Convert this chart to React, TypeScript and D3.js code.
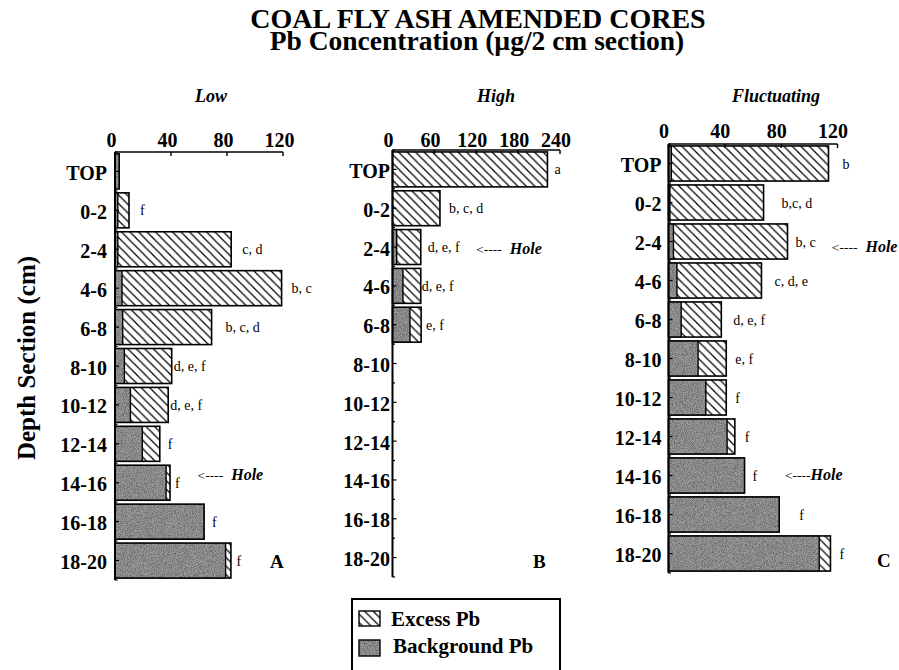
import React from 'react';
import * as d3 from 'd3';

// ---------- data ----------
const depthRows = ['TOP', '0-2', '2-4', '4-6', '6-8', '8-10', '10-12', '12-14', '14-16', '16-18', '18-20'];

const lowBackground = [3, 2, 2, 5, 5.5, 6.7, 11, 19.5, 36.5, 63.6, 79];
const lowExcess = [0, 8, 81, 114, 63.5, 33.8, 27, 12.5, 2.8, 0, 3.8];
const lowLetters = ['', 'f', 'c, d', 'b, c', 'b, c, d', 'd, e, f', 'd, e, f', 'f', 'f', 'f', 'f'];
const lowTicks = [0, 40, 80, 120];

const highBackground = [0, 0, 6, 15, 25, 0, 0, 0, 0, 0, 0];
const highExcess = [222, 68, 34.5, 25.5, 16, 0, 0, 0, 0, 0, 0];
const highLetters = ['a', 'b, c, d', 'd, e, f', 'd, e, f', 'e, f', '', '', '', '', '', ''];
const highTicks = [0, 60, 120, 180, 240];

const fluctBackground = [2, 1, 3.5, 6, 9, 21, 26.5, 41.6, 54, 78.6, 107];
const fluctExcess = [111.6, 66.5, 81, 60, 28.5, 20, 14.5, 5.5, 0, 0, 8];
const fluctLetters = ['b', 'b,c, d', 'b, c', 'c, d, e', 'd, e, f', 'e, f', 'f', 'f', 'f', 'f', 'f'];
const fluctTicks = [0, 40, 80, 120];

const panelNames = ['Low', 'High', 'Fluctuating'];
const panelTags = ['A', 'B', 'C'];

// hole annotations: panel index, row, position in data units
const holePanels = [0, 1, 2, 2];
const holeRows = ['14-16', '2-4', '2-4', '14-16'];
const holeAt = [59, 120, 116, 82.7];

// ---------- layout ----------
const W = 899;
const H = 670;
const FONT = "'Liberation Serif', 'Times New Roman', Tinos, 'DejaVu Serif', serif";

const layout = [
  { x0: 115, x1: 283, yTop: 152, yBot: 580, rowGap: 8, tickDx: -3.5, tickDy: 5.5, nameX: 211, tagX: 270, tagY: 568,
    gaps: [8, 11, 11, 10, 14, 2, 2, 8, 5, 8, 5.5] },
  { x0: 392.5, x1: 560, yTop: 150, yBot: 577, rowGap: 2.5, tickDx: -4, tickDy: 3.5, nameX: 496, tagX: 533, tagY: 568,
    gaps: [7, 9, 7, 1, 5, 5, 5, 5, 5, 5, 5] },
  { x0: 668.5, x1: 837.5, yTop: 144, yBot: 573, rowGap: 7, tickDx: -4.5, tickDy: 5.7, nameX: 776, tagX: 877, tagY: 567,
    gaps: [14, 18, 8, 13, 12, 9, 9, 10, 8, 20, 9] },
];
const holeDy = [-3, 7, 10.5, 4];
const holeSpace = [true, true, true, false];

const datasets = [
  { bg: lowBackground, ex: lowExcess, letters: lowLetters, ticks: lowTicks },
  { bg: highBackground, ex: highExcess, letters: highLetters, ticks: highTicks },
  { bg: fluctBackground, ex: fluctExcess, letters: fluctLetters, ticks: fluctTicks },
];

const serif: React.CSSProperties = { fontFamily: FONT };

function Panel({ idx }: { idx: number }) {
  const L = layout[idx];
  const D = datasets[idx];
  const x = d3.scaleLinear().domain([0, D.ticks[D.ticks.length - 1]]).range([L.x0, L.x1]);
  const y = d3.scaleBand<string>().domain(depthRows).range([L.yTop, L.yBot]).paddingInner(0.1).paddingOuter(0.05);
  const bw = y.bandwidth();
  const step = y.step();
  const yTicks = d3.range(0, depthRows.length * 2 + 1).map((k) => L.yTop + (k * step) / 2);

  return (
    <g>
      {depthRows.map((r, i) => {
        const bg = D.bg[i];
        const ex = D.ex[i];
        const total = bg + ex;
        if (total <= 0) return null;
        const yy = y(r) as number;
        return (
          <g key={r}>
            {bg > 0 && (
              <rect x={x(0)} y={yy} width={x(bg) - x(0)} height={bw} fill="#777" filter="url(#speckle)" />
            )}
            {ex > 0 && (
              <>
                <rect x={x(bg)} y={yy} width={x(total) - x(bg)} height={bw} fill="#fff" />
                <rect x={x(bg)} y={yy} width={x(total) - x(bg)} height={bw} fill="url(#hatch)" />
              </>
            )}
            {bg > 0 && ex > 0 && (
              <line x1={x(bg)} x2={x(bg)} y1={yy} y2={yy + bw} stroke="#000" strokeWidth={1.4} />
            )}
            <rect x={x(0)} y={yy} width={x(total) - x(0)} height={bw} fill="none" stroke="#000" strokeWidth={1.6} />
            {D.letters[i] && (
              <text x={x(total) + L.gaps[i]} y={yy + bw / 2 + 5} fontSize={14} style={serif} fill="#000">
                {D.letters[i]}
              </text>
            )}
          </g>
        );
      })}

      <line x1={L.x0} x2={L.x0} y1={L.yTop} y2={L.yBot} stroke="#000" strokeWidth={2} />
      {yTicks.map((t, k) => (
        <line key={k} x1={L.x0} x2={L.x0 + (k % 2 === 1 ? 4 : 2.5)} y1={t} y2={t} stroke="#000" strokeWidth={1.2} />
      ))}
      {depthRows.map((r) => (
        <text
          key={r}
          x={L.x0 - L.rowGap}
          y={(y(r) as number) + bw / 2 + 8.5}
          textAnchor="end"
          fontSize={20}
          fontWeight="bold"
          style={serif}
        >
          {r}
        </text>
      ))}

      <line x1={L.x0} x2={L.x1} y1={L.yTop} y2={L.yTop} stroke="#000" strokeWidth={1.6} />
      {D.ticks.map((t) => (
        <g key={t}>
          <line x1={x(t)} x2={x(t)} y1={L.yTop} y2={L.yTop + 4} stroke="#000" strokeWidth={1.4} />
          <text
            x={x(t) + L.tickDx}
            y={L.yTop - L.tickDy}
            textAnchor="middle"
            fontSize={20}
            fontWeight="bold"
            style={serif}
          >
            {t}
          </text>
        </g>
      ))}

      <text x={L.nameX} y={102} textAnchor="middle" fontSize={18} fontWeight="bold" fontStyle="italic" style={serif}>
        {panelNames[idx]}
      </text>
      <text x={L.tagX} y={L.tagY} fontSize={19} fontWeight="bold" style={serif}>
        {panelTags[idx]}
      </text>

      {holePanels.map((p, k) => {
        if (p !== idx) return null;
        const yy = (y(holeRows[k]) as number) + bw / 2 + holeDy[k];
        return (
          <text key={k} x={x(holeAt[k])} y={yy} style={serif}>
            <tspan fontSize={13.5}>{'<----'}</tspan>
            <tspan fontSize={16} fontWeight="bold" fontStyle="italic" dx={holeSpace[k] ? 8 : 0}>
              Hole
            </tspan>
          </text>
        );
      })}
    </g>
  );
}

export default function App() {
  return (
    <svg
      width={W}
      height={H}
      viewBox={`0 0 ${W} ${H}`}
      style={{ position: 'absolute', left: 0, top: 0, background: '#fff', fontFamily: FONT }}
    >
      <defs>
        <pattern id="hatch" patternUnits="userSpaceOnUse" width={8.5} height={8.5}>
          <path d="M0,0 L8.5,8.5 M-1,7.5 L1,9.5 M7.5,-1 L9.5,1" stroke="#000" strokeWidth={1.2} />
        </pattern>
        <filter id="speckle" x="0" y="0" width="1" height="1">
          <feTurbulence type="fractalNoise" baseFrequency="1.1" numOctaves={2} seed={4} result="fine" />
          <feColorMatrix
            in="fine"
            type="matrix"
            values="0 0 0 0 0.15  0 0 0 0 0.15  0 0 0 0 0.15  3 0 0 0 -1.05"
            result="darkDots"
          />
          <feTurbulence type="fractalNoise" baseFrequency="1.0" numOctaves={1} seed={11} result="fine2" />
          <feColorMatrix
            in="fine2"
            type="matrix"
            values="0 0 0 0 0.72  0 0 0 0 0.72  0 0 0 0 0.72  0 3 0 0 -1.25"
            result="lightDots"
          />
          <feTurbulence type="fractalNoise" baseFrequency="0.06" numOctaves={2} seed={2} result="blotch" />
          <feColorMatrix
            in="blotch"
            type="matrix"
            values="0 0 0 0 0.2  0 0 0 0 0.2  0 0 0 0 0.2  2.4 0 0 0 -0.95"
            result="darkBlotch"
          />
          <feFlood floodColor="#7d7d7d" result="base" />
          <feMerge>
            <feMergeNode in="base" />
            <feMergeNode in="darkBlotch" />
            <feMergeNode in="lightDots" />
            <feMergeNode in="darkDots" />
          </feMerge>
        </filter>
      </defs>

      <text x={478} y={27.5} textAnchor="middle" fontSize={28} fontWeight="bold" style={serif}>
        COAL FLY ASH AMENDED CORES
      </text>
      <text x={477} y={50} textAnchor="middle" fontSize={27.5} fontWeight="bold" style={serif}>
        Pb Concentration (µg/2 cm section)
      </text>

      <text
        transform="translate(35,358) rotate(-90)"
        textAnchor="middle"
        fontSize={25}
        fontWeight="bold"
        style={serif}
      >
        Depth Section (cm)
      </text>

      {[0, 1, 2].map((i) => (
        <Panel key={i} idx={i} />
      ))}

      <rect x={352} y={599} width={208} height={90} fill="none" stroke="#000" strokeWidth={2} />
      <rect x={359} y={611} width={21} height={15} fill="#fff" />
      <rect x={359} y={611} width={21} height={15} fill="url(#hatch)" />
      <rect x={359} y={611} width={21} height={15} fill="none" stroke="#000" strokeWidth={1.4} />
      <text x={391} y={626} fontSize={21} fontWeight="bold" style={serif}>
        Excess Pb
      </text>
      <rect x={359} y={640} width={21} height={16} fill="#777" filter="url(#speckle)" />
      <rect x={359} y={640} width={21} height={16} fill="none" stroke="#000" strokeWidth={1.4} />
      <text x={393} y={653} fontSize={21} fontWeight="bold" style={serif}>
        Background Pb
      </text>
    </svg>
  );
}
